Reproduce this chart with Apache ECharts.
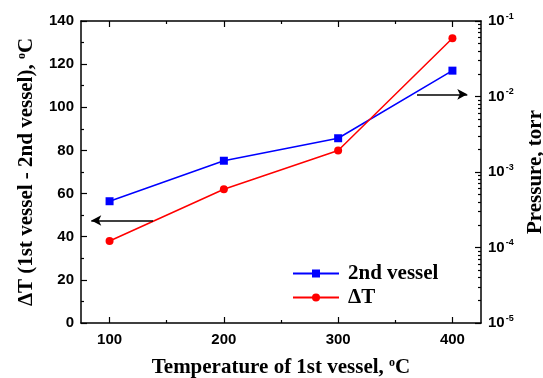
<!DOCTYPE html>
<html>
<head>
<meta charset="utf-8">
<script src="https://cdn.jsdelivr.net/npm/echarts@6/dist/echarts.min.js"></script>
<style>
  html, body { margin: 0; padding: 0; background: #fff; }
  #chart { width: 543px; height: 378px; }
</style>
</head>
<body>
<div id="chart"></div>
<script>
// values
const temps = [100, 200, 300, 400];
const deltaT = [38, 62, 80, 132];
const pressure = [4.1e-4, 1.41e-3, 2.8e-3, 2.2e-2];

const xTicks = [100, 200, 300, 400];
const xMinorTicks = [150, 250, 350];
const pMinorTicks = [];
[1e-5, 1e-4, 1e-3, 1e-2].forEach(d => {
    for (let k = 2; k <= 9; k++) pMinorTicks.push(d * k);
});

// arrows pointing at the axis each curve belongs to (x in °C, y in ΔT units)
const leftArrow = [[138, 47.5], [84, 47.5]];
const rightArrow = [[369, 106], [413, 106]];

const sans = 'Liberation Sans';
const serif = 'Liberation Serif';
const tickFont = { fontFamily: sans, fontWeight: 'bold', fontSize: 15, color: '#000' };
const axisLine = { show: true, onZero: false, lineStyle: { color: '#000', width: 1.5 } };
const tickLine = { color: '#000', width: 1.2 };
const titleStyle = {
    fontFamily: serif, fontWeight: 'bold', fontSize: 21, color: '#000',
    rich: {
        t: { fontFamily: serif, fontWeight: 'bold', fontSize: 21, color: '#000' },
        sup: { fontFamily: serif, fontWeight: 'bold', fontSize: 12, color: '#000', verticalAlign: 'top', padding: [0, 0, 9, 0] }
    }
};

const chart = echarts.init(document.getElementById('chart'));

function xAxisBase(pos) {
    return {
        type: 'value', position: pos, min: 75, max: 425,
        axisLine: axisLine, splitLine: { show: false }
    };
}

chart.setOption({
    animation: false,
    grid: { left: 81, right: 62, top: 21, bottom: 55, containLabel: false, outerBoundsMode: 'none' },
    legend: {
        data: ['2nd vessel', 'ΔT'],
        orient: 'vertical',
        left: 292, top: 263, padding: 0,
        itemWidth: 46, itemHeight: 10, itemGap: 3,
        textStyle: { fontFamily: serif, fontWeight: 'bold', fontSize: 21, color: '#000', padding: [0, 0, 0, 4] }
    },
    xAxis: [
        Object.assign(xAxisBase('bottom'), {
            name: '{t|Temperature of 1st vessel, }{sup|o}{t|C}',
            nameLocation: 'middle', nameGap: 34, nameTextStyle: titleStyle,
            axisTick: { show: true, inside: true, length: 6, customValues: xTicks, lineStyle: tickLine },
            axisLabel: Object.assign({ customValues: xTicks, margin: 9 }, tickFont)
        }),
        Object.assign(xAxisBase('bottom'), {
            axisLine: { show: false },
            axisTick: { show: true, inside: true, length: 3, customValues: xMinorTicks, lineStyle: tickLine },
            axisLabel: { show: false }
        }),
        Object.assign(xAxisBase('top'), {
            axisTick: { show: true, inside: true, length: 6, customValues: xTicks, lineStyle: tickLine },
            axisLabel: { show: false }
        }),
        Object.assign(xAxisBase('top'), {
            axisLine: { show: false },
            axisTick: { show: true, inside: true, length: 3, customValues: xMinorTicks, lineStyle: tickLine },
            axisLabel: { show: false }
        })
    ],
    yAxis: [
        {
            type: 'value', position: 'left', min: 0, max: 140, interval: 20,
            name: '{t|ΔT (1st vessel - 2nd vessel), }{sup|o}{t|C}',
            nameLocation: 'middle', nameGap: 44, nameTextStyle: titleStyle,
            axisLine: axisLine,
            axisTick: { show: true, inside: true, length: 6, lineStyle: tickLine },
            minorTick: { show: true, splitNumber: 2, length: 3, lineStyle: tickLine },
            axisLabel: Object.assign({ margin: 7 }, tickFont),
            splitLine: { show: false }
        },
        {
            type: 'log', logBase: 10, position: 'right', min: 1e-5, max: 0.1,
            name: 'Pressure, torr',
            nameLocation: 'middle', nameGap: 35, nameTextStyle: titleStyle,
            axisLine: axisLine,
            axisTick: { show: true, inside: true, length: 6, lineStyle: tickLine },
            axisLabel: {
                margin: 7,
                formatter: v => '{b|10}{s|' + Math.round(Math.log10(v)) + '}',
                rich: {
                    b: { fontFamily: sans, fontWeight: 'bold', fontSize: 15, color: '#000' },
                    s: { fontFamily: sans, fontWeight: 'bold', fontSize: 9, color: '#000', verticalAlign: 'top', padding: [0, 0, 9, 1] }
                }
            },
            splitLine: { show: false }
        },
        {
            type: 'log', logBase: 10, position: 'right', min: 1e-5, max: 0.1,
            axisLine: { show: false },
            axisTick: { show: true, inside: true, length: 3, customValues: pMinorTicks, lineStyle: tickLine },
            axisLabel: { show: false },
            splitLine: { show: false }
        }
    ],
    series: [
        {
            name: '2nd vessel', type: 'line', xAxisIndex: 0, yAxisIndex: 1,
            data: temps.map((t, i) => [t, pressure[i]]),
            symbol: 'rect', symbolSize: 8,
            itemStyle: { color: '#0000ff' },
            lineStyle: { color: '#0000ff', width: 1.5 }
        },
        {
            name: 'ΔT', type: 'line', xAxisIndex: 0, yAxisIndex: 0,
            data: temps.map((t, i) => [t, deltaT[i]]),
            symbol: 'circle', symbolSize: 8,
            itemStyle: { color: '#ff0000' },
            lineStyle: { color: '#ff0000', width: 1.5 },
            markLine: {
                silent: true,
                symbol: ['none', 'arrow'],
                symbolSize: [8, 10],
                label: { show: false },
                lineStyle: { color: '#000', width: 1.5, type: 'solid' },
                data: [
                    [{ coord: leftArrow[0] }, { coord: leftArrow[1] }],
                    [{ coord: rightArrow[0] }, { coord: rightArrow[1] }]
                ]
            }
        }
    ]
});
</script>
</body>
</html>
